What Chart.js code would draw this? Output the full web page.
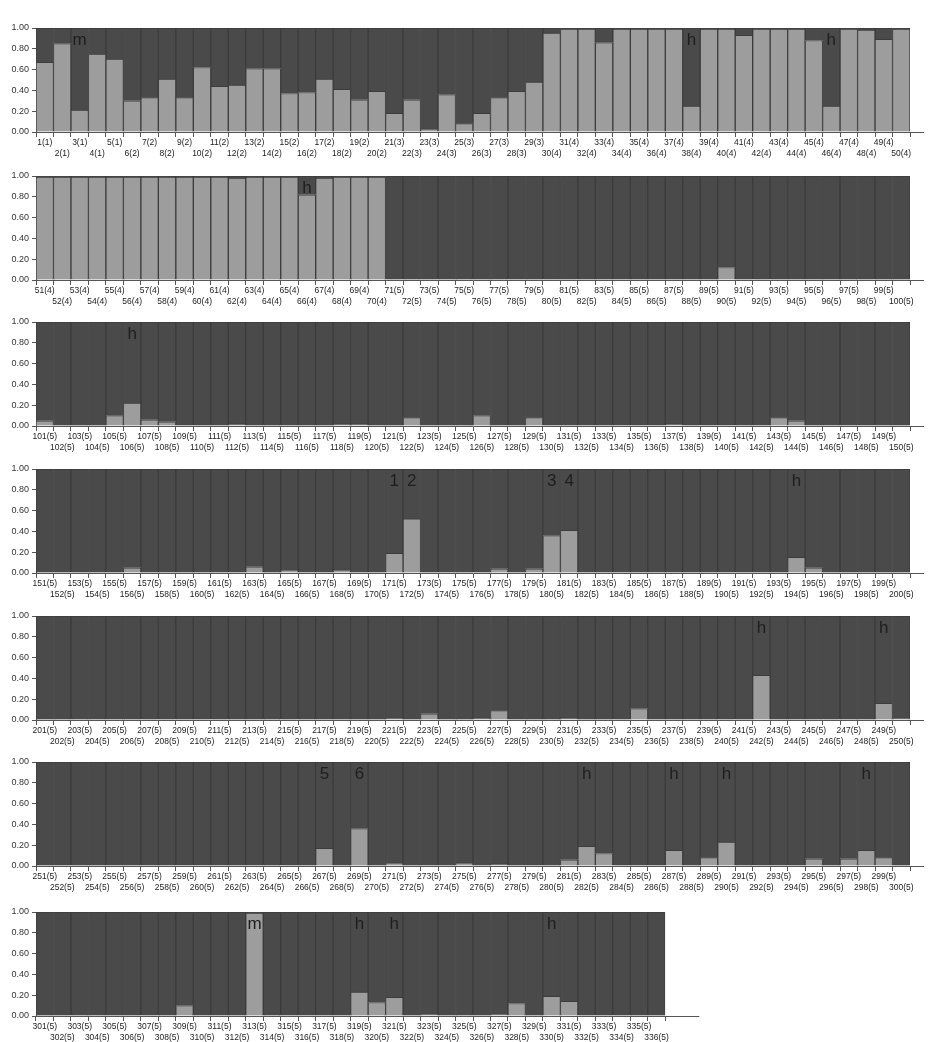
<!DOCTYPE html>
<html>
<head>
<meta charset="utf-8">
<script src="https://cdn.jsdelivr.net/npm/chart.js@4/dist/chart.umd.min.js"></script>
<style>
  body { margin: 0; background: #fff; }
  canvas { position: absolute; left: 0; }
</style>
</head>
<body>
<canvas id="r0"></canvas>
<canvas id="r1"></canvas>
<canvas id="r2"></canvas>
<canvas id="r3"></canvas>
<canvas id="r4"></canvas>
<canvas id="r5"></canvas>
<canvas id="r6"></canvas>
<script>
// group membership of the samples: [first id, last id, group]
const groupRanges = [[1, 5, 1], [6, 20, 2], [21, 29, 3], [30, 70, 4], [71, 336, 5]];

// proportion of the light cluster for each sample, one array per row
const row1Values = [0.67, 0.85, 0.21, 0.75, 0.70, 0.30, 0.33, 0.51, 0.33, 0.62,
  0.44, 0.45, 0.61, 0.61, 0.37, 0.38, 0.51, 0.41, 0.31, 0.39,
  0.18, 0.31, 0.03, 0.36, 0.08, 0.18, 0.33, 0.39, 0.48, 0.95,
  0.99, 0.99, 0.86, 0.99, 0.99, 0.99, 0.99, 0.25, 0.99, 0.99,
  0.93, 0.99, 0.99, 0.99, 0.88, 0.25, 0.99, 0.98, 0.89, 0.99];
const row2Values = [0.99, 0.99, 0.99, 0.99, 0.99, 0.99, 0.99, 0.99, 0.99, 0.99,
  0.99, 0.98, 0.99, 0.99, 0.99, 0.82, 0.98, 0.99, 0.99, 0.99,
  0.01, 0, 0.01, 0, 0, 0, 0, 0.01, 0, 0.01,
  0.01, 0, 0, 0, 0, 0, 0, 0, 0, 0.12,
  0.01, 0.01, 0.01, 0, 0, 0, 0, 0.01, 0, 0];
const row3Values = [0.05, 0, 0, 0, 0.10, 0.22, 0.06, 0.04, 0.01, 0.01,
  0, 0.02, 0, 0, 0, 0, 0, 0.02, 0.02, 0,
  0, 0.08, 0, 0, 0, 0.10, 0, 0, 0.08, 0.01,
  0, 0, 0, 0, 0.01, 0.01, 0.02, 0.01, 0.01, 0.01,
  0, 0, 0.08, 0.05, 0, 0, 0, 0.01, 0, 0.01];
const row4Values = [0, 0.01, 0.01, 0, 0.01, 0.05, 0, 0, 0, 0,
  0, 0.01, 0.06, 0, 0.03, 0, 0, 0.03, 0, 0.01,
  0.19, 0.52, 0.01, 0, 0, 0.01, 0.04, 0, 0.04, 0.36,
  0.41, 0, 0, 0, 0, 0, 0, 0, 0, 0.01,
  0.01, 0, 0, 0.15, 0.05, 0, 0.01, 0, 0, 0];
const row5Values = [0, 0, 0, 0, 0, 0, 0.01, 0.01, 0, 0.01,
  0.01, 0, 0, 0, 0.01, 0, 0, 0, 0, 0,
  0.02, 0, 0.06, 0, 0, 0.02, 0.09, 0.01, 0, 0,
  0.02, 0, 0, 0.01, 0.11, 0, 0, 0, 0, 0.01,
  0.01, 0.43, 0, 0, 0, 0.01, 0, 0, 0.16, 0.02];
const row6Values = [0, 0.01, 0, 0, 0, 0, 0, 0, 0.01, 0,
  0, 0, 0, 0, 0.01, 0, 0.17, 0, 0.36, 0,
  0.03, 0, 0, 0, 0.03, 0, 0.02, 0, 0.01, 0,
  0.06, 0.19, 0.12, 0.01, 0, 0.01, 0.15, 0, 0.08, 0.23,
  0, 0.01, 0, 0.01, 0.07, 0, 0.07, 0.15, 0.08, 0.01];
const row7Values = [0, 0.01, 0, 0, 0, 0.01, 0.01, 0, 0.10, 0,
  0, 0, 0.99, 0, 0, 0.01, 0, 0, 0.23, 0.13,
  0.18, 0, 0.02, 0, 0, 0, 0.02, 0.12, 0, 0.19,
  0.14, 0.01, 0.01, 0.01, 0, 0];

// letters written over single samples: [sample id, text]
const row1Marks = [[3, 'm'], [38, 'h'], [46, 'h']];
const row2Marks = [[66, 'h']];
const row3Marks = [[106, 'h']];
const row4Marks = [[171, '1'], [172, '2'], [180, '3'], [181, '4'], [194, 'h']];
const row5Marks = [[242, 'h'], [249, 'h']];
const row6Marks = [[267, '5'], [269, '6'], [282, 'h'], [287, 'h'], [290, 'h'], [298, 'h']];
const row7Marks = [[313, 'm'], [319, 'h'], [321, 'h'], [330, 'h']];

const rows = [row1Values, row2Values, row3Values, row4Values, row5Values, row6Values, row7Values];
const marks = [row1Marks, row2Marks, row3Marks, row4Marks, row5Marks, row6Marks, row7Marks];
const firstIds = [1, 51, 101, 151, 201, 251, 301];
const rowTops = [28, 176, 322, 469, 616, 762, 912];

const LIGHT = '#9d9d9d';
const DARK = '#4a4a4a';
const FONT = '"Liberation Sans", Arial, sans-serif';

function groupOf(id) {
  const g = groupRanges.find(r => id >= r[0] && id <= r[1]);
  return g ? g[2] : '';
}

const markPlugin = {
  id: 'marks',
  afterDatasetsDraw(chart, args, opts) {
    const ctx = chart.ctx;
    const xs = chart.scales.x, ys = chart.scales.y;
    ctx.save();
    ctx.font = '17px ' + FONT;
    ctx.fillStyle = '#1e1e1e';
    ctx.textAlign = 'center';
    ctx.textBaseline = 'middle';
    opts.items.forEach(([id, t]) => {
      const idx = id - opts.first;
      ctx.fillText(t, xs.getPixelForValue(idx), ys.getPixelForValue(0.885));
    });
    ctx.restore();
  },
  afterDraw(chart, args, opts) {
    // the base line runs a little past the last bar
    const ctx = chart.ctx, a = chart.chartArea;
    ctx.save();
    ctx.strokeStyle = '#555';
    ctx.lineWidth = 1;
    ctx.beginPath();
    ctx.moveTo(a.right, a.bottom + 0.5);
    ctx.lineTo(a.right + opts.tail, a.bottom + 0.5);
    ctx.stroke();
    ctx.restore();
  }
};

const BAR_W = 874 / 50;

rows.forEach((vals, r) => {
  const canvas = document.getElementById('r' + r);
  const plotW = BAR_W * vals.length;
  const width = r === 6 ? 700 : 938;
  canvas.width = width;
  canvas.height = 145;
  canvas.style.top = (rowTops[r] - 10) + 'px';

  const labels = vals.map((v, i) => {
    const id = firstIds[r] + i;
    const txt = id + '(' + groupOf(id) + ')';
    return i % 2 === 0 ? [txt, ''] : ['', txt];
  });

  new Chart(canvas.getContext('2d'), {
    type: 'bar',
    data: {
      labels: labels,
      datasets: [
        {
          data: vals,
          backgroundColor: LIGHT,
          borderColor: '#3c3c3c',
          borderWidth: 1
        },
        {
          data: vals.map(v => +(1 - v).toFixed(2)),
          backgroundColor: DARK,
          borderColor: '#3c3c3c',
          borderWidth: 1
        }
      ]
    },
    options: {
      responsive: false,
      animation: false,
      layout: { padding: { top: 10, left: 0, right: width - 36 - plotW, bottom: 0 } },
      datasets: { bar: { barPercentage: 1, categoryPercentage: 1 } },
      plugins: {
        legend: { display: false },
        tooltip: { enabled: false },
        marks: { items: marks[r], first: firstIds[r], tail: r === 6 ? 34 : 14 }
      },
      scales: {
        x: {
          stacked: true,
          grid: { drawOnChartArea: false, drawTicks: true, tickLength: 5, color: '#555', offset: true },
          border: { color: '#555' },
          ticks: {
            autoSkip: false, maxRotation: 0, minRotation: 0, padding: 1,
            color: '#222', font: { size: 8.5, family: FONT, lineHeight: 1.2 }
          },
          afterFit: s => { s.height = 31; }
        },
        y: {
          stacked: true,
          min: 0,
          max: 1,
          grid: { drawOnChartArea: false, drawTicks: true, tickLength: 4, color: '#555' },
          border: { color: '#555' },
          ticks: {
            stepSize: 0.2, padding: 3, color: '#333',
            font: { size: 9, family: FONT },
            callback: v => v.toFixed(2)
          },
          afterFit: s => { s.width = 36; }
        }
      }
    },
    plugins: [markPlugin]
  });
});
</script>
</body>
</html>
